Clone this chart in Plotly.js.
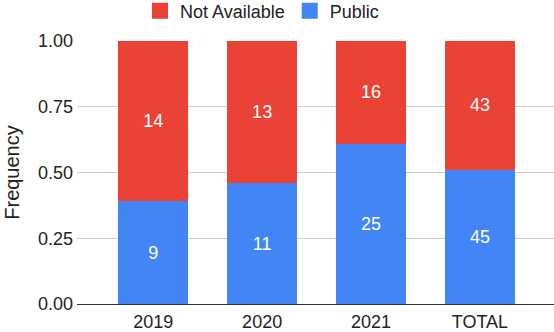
<!DOCTYPE html>
<html>
<head>
<meta charset="utf-8">
<script src="https://cdn.plot.ly/plotly-3.0.1.min.js"></script>
<style>html,body{margin:0;padding:0;background:#fff;}#chart{width:554px;height:332px;}</style>
</head>
<body>
<div id="chart"></div>
<script>
const categories = ["2019", "2020", "2021", "TOTAL"];
const publicCounts = [9, 11, 25, 45];
const notAvailableCounts = [14, 13, 16, 43];
const yTickVals = [0, 0.25, 0.5, 0.75, 1];
const yTickText = ["0.00", "0.25", "0.50", "0.75", "1.00"];

const FONT = "Liberation Sans, Arial, sans-serif";
const BLUE = "#4285F4", RED = "#EA4335";

const traces = [
  {
    type: "bar", name: "Public", x: categories, y: publicCounts, showlegend: false,
    text: publicCounts.map(String), textposition: "inside", insidetextanchor: "middle",
    textfont: {color: "#ffffff", size: 18, family: FONT},
    marker: {color: BLUE, line: {width: 0}}, hoverinfo: "none"
  },
  {
    type: "bar", name: "Not Available", x: categories, y: notAvailableCounts, showlegend: false,
    text: notAvailableCounts.map(String), textposition: "inside", insidetextanchor: "middle",
    textfont: {color: "#ffffff", size: 18, family: FONT},
    marker: {color: RED, line: {width: 0}}, hoverinfo: "none"
  },
  // legend entries (square swatches)
  {type: "scatter", mode: "markers", name: "Not Available", x: [null], y: [null],
   marker: {symbol: "square", size: 16, color: RED}, hoverinfo: "none"},
  {type: "scatter", mode: "markers", name: "Public", x: [null], y: [null],
   marker: {symbol: "square", size: 16, color: BLUE}, hoverinfo: "none"}
];

const layout = {
  width: 554, height: 332,
  margin: {l: 77, r: 0, t: 41, b: 28},
  barmode: "stack", barnorm: "fraction", bargap: 0.36,
  paper_bgcolor: "#fff", plot_bgcolor: "#fff",
  font: {family: FONT, size: 18, color: "#222"},
  showlegend: true,
  legend: {orientation: "h", traceorder: "normal", x: 140/554, xref: "container", xanchor: "left",
           y: 1 - 11/332, yref: "container", yanchor: "middle",
           font: {size: 18, color: "#222"}, itemsizing: "trace", tracegroupgap: 0},
  xaxis: {type: "category", range: [-0.7, 3.68], showgrid: false, ticks: "", showline: false,
          tickfont: {size: 18, color: "#222"}, fixedrange: true, automargin: false, ticklabelstandoff: 5},
  yaxis: {range: [0, 1], tickvals: yTickVals, ticktext: yTickText, showgrid: true, gridcolor: "#cccccc",
          zeroline: true, zerolinecolor: "#333333", zerolinewidth: 1, ticks: "", showline: false,
          tickfont: {size: 18, color: "#222"}, automargin: false, ticklabelstandoff: 3,
          title: {text: "Frequency", font: {size: 20, color: "#222"}, standoff: 12}}
};

Plotly.newPlot("chart", traces, layout, {displayModeBar: false, staticPlot: true});
</script>
</body>
</html>
